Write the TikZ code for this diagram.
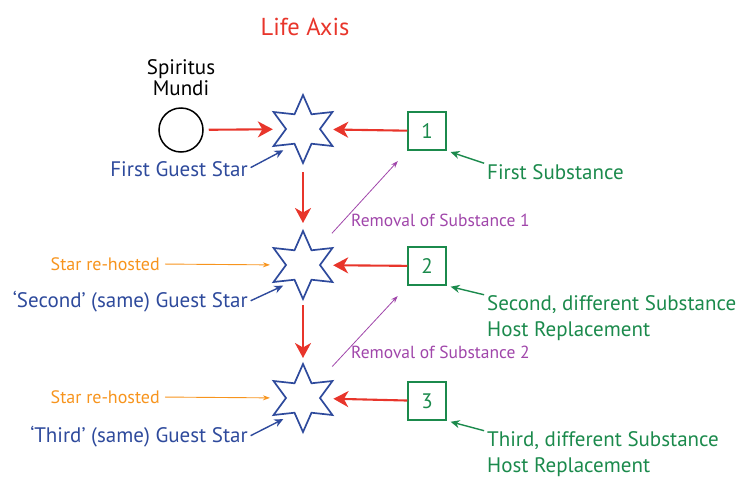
\documentclass[tikz,border=0pt]{standalone}
\usepackage{fontspec}
\setmainfont{PT Sans}
\usetikzlibrary{shapes.geometric, arrows.meta, positioning}
\definecolor{axred}{HTML}{E8352B}
\definecolor{starblue}{HTML}{2E4A9C}
\definecolor{subgreen}{HTML}{1B8A4C}
\definecolor{rempurple}{HTML}{A046AA}
\definecolor{hostorange}{HTML}{F7941D}
\newcommand{\fsz}[2]{\fontsize{#1}{#2}\selectfont}

\begin{document}
\begin{tikzpicture}[x=1pt, y=-1pt]
\tikzset{gstar/.style={draw=starblue, star, star points=6, star point ratio=2, minimum size=68pt, inner sep=0, line width=1.7pt},
  subbox/.style={draw=subgreen, text=subgreen, rectangle, minimum size=38pt, inner sep=0, line width=1.5pt, font=\fsz{21}{24}},
  axarrow/.style={axred, line width=2.1pt, -{Stealth[length=15pt, width=16pt, inset=4.5pt]}},
  bluelbl/.style={text=starblue, inner sep=0, font=\fsz{21}{24}, anchor=east},
  greenlbl/.style={text=subgreen, inner sep=0, font=\fsz{21}{25.5}, anchor=west, align=left},
  remlbl/.style={text=rempurple, inner sep=0, font=\fsz{17.5}{20}, anchor=west},
  hostlbl/.style={text=hostorange, inner sep=0, font=\fsz{18}{20}, anchor=east},
  bluearrow/.style={starblue, line width=1.4pt, -{Stealth[length=9pt, width=8pt]}},
  greenarrow/.style={subgreen, line width=1.4pt, -{Stealth[length=9pt, width=8pt]}},
  remarrow/.style={rempurple, line width=0.8pt, -{Stealth[length=7pt, width=5pt]}},
  hostarrow/.style={hostorange, line width=0.9pt, -{Stealth[length=7pt, width=5pt]}}}
\useasboundingbox (0,0) rectangle (741,477);
\node[text=axred, font=\fsz{24.5}{28}] (axis) at (305,27) {Life Axis};
\node[align=center, font=\fsz{21}{21}] (spname) at (181,78) {Spiritus\\Mundi};
\node[draw, circle, minimum size=44pt, inner sep=0, line width=1.5pt] (mundi) at (181,130) {};
\node[gstar] (s1) at (303,129) {}; \node[gstar] (s2) at (303,265) {}; \node[gstar] (s3) at (303,398) {};
\node[subbox] (b1) at (427,131) {1}; \node[subbox] (b2) at (427,266) {2}; \node[subbox] (b3) at (427,401) {3};
\node[bluelbl] (g1) at (248,169) {First Guest Star};
\node[bluelbl] (g2) at (248,302) {‘Second’ (same) Guest Star};
\node[bluelbl] (g3) at (248,437) {‘Third’ (same) Guest Star};
\node[greenlbl] (f1) at (487,172) {First Substance};
\node[greenlbl] (f2) at (487,318) {Second, different Substance\\Host Replacement};
\node[greenlbl] (f3) at (487,454) {Third, different Substance\\Host Replacement};
\node[remlbl] (r1) at (351,220) {Removal of Substance 1};
\node[remlbl] (r2) at (351,352) {Removal of Substance 2};
\node[hostlbl] (h2) at (160,264) {Star re-hosted};
\node[hostlbl] (h3) at (160,397) {Star re-hosted};
% life axis
\draw[axarrow, shorten <=5pt, shorten >=12pt] (mundi) -- (s1);
\draw[axarrow, shorten <=43pt, shorten >=42pt] (s1.center) -- (s2.center);
\draw[axarrow, shorten <=40pt, shorten >=40pt] (s2.center) -- (s3.center);
\draw[axarrow, shorten >=12pt] (b1) -- (s1); \draw[axarrow, shorten >=12pt] (b2) -- (s2); \draw[axarrow, shorten >=12pt] (b3) -- (s3);
% labels
\draw[bluearrow, shorten <=3pt, shorten >=12pt] (g1.east) -- (s1.240);
\draw[bluearrow, shorten <=3pt, shorten >=12pt] (g2.east) -- (s2.240);
\draw[bluearrow, shorten <=3pt, shorten >=12pt] (g3.east) -- (s3.240);
\draw[greenarrow, shorten <=3pt, shorten >=4pt] (f1.north west) -- (b1.south east);
\draw[greenarrow, shorten <=3pt, shorten >=4pt] (f2.north west) -- (b2.south east);
\draw[greenarrow, shorten <=3pt, shorten >=4pt] (f3.north west) -- (b3.south east);
\draw[remarrow, shorten <=43pt, shorten >=14pt] (s2.center) -- (b1.south west);
\draw[remarrow, shorten <=43pt, shorten >=14pt] (s3.center) -- (b2.south west);
\draw[hostarrow, shorten <=5pt, shorten >=15pt] (h2.east) -- (s2.west);
\draw[hostarrow, shorten <=5pt, shorten >=15pt] (h3.east) -- (s3.west);
\end{tikzpicture}
\end{document}
